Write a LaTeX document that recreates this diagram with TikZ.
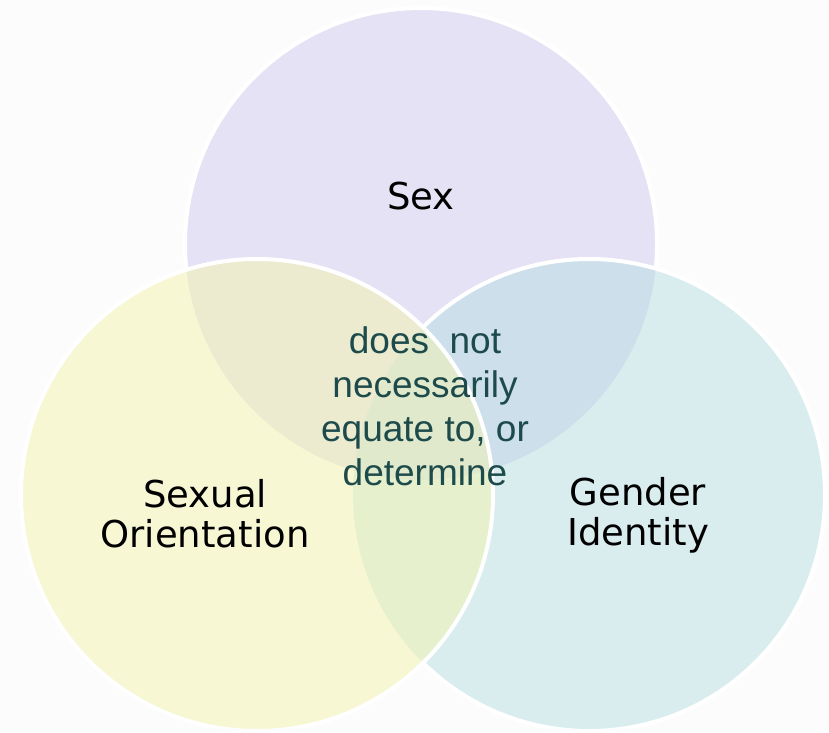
\documentclass[tikz,border=0pt]{standalone}
\usepackage{fontspec}
\setmainfont{DejaVu Sans}
\newfontfamily\linkfont{Liberation Sans}
\definecolor{sexfill}{HTML}{CEC9EE}
\definecolor{orientfill}{HTML}{F4F4AE}
\definecolor{genderfill}{HTML}{B8DEE2}
\definecolor{linktext}{HTML}{1D4A4A}
\definecolor{pagebg}{HTML}{FCFCFC}

\begin{document}
\begin{tikzpicture}[
            x=1pt, y=-1pt,
            set/.style={
                circle,
                minimum size=472pt,
                inner sep=0pt,
                fill opacity=0.5
            },
            ring/.style={
                draw=white,
                line width=4pt
            },
            setlabel/.style={
                align=center,
                font=\fontsize{37}{40}\selectfont
            },
            linklabel/.style={
                align=center,
                text=linktext,
                font=\linkfont\fontsize{37}{44}\selectfont
            }
        ]

            \fill[pagebg] (0,0) rectangle (829,732);
            \useasboundingbox (0,0) rectangle (829,732);

            \node[set, fill=sexfill] (sex) at (421,244) {};
            \node[set, fill=genderfill] (gender) at (589,495) {};
            \node[set, fill=orientfill] (orient) at (257,495) {};

            \begin{scope}[even odd rule]
                \clip (0,0) rectangle (829,732)
                    (orient.center) circle[radius=236pt];
                \clip (0,0) rectangle (829,732)
                    (gender.center) circle[radius=236pt];
                \draw[ring] (sex.center) circle[radius=236pt];
            \end{scope}
            \begin{scope}[even odd rule]
                \clip (0,0) rectangle (829,732)
                    (orient.center) circle[radius=236pt];
                \draw[ring] (gender.center) circle[radius=236pt];
            \end{scope}
            \draw[ring] (orient.center) circle[radius=236pt];

            \node[setlabel] (sexlabel) at (421,196) {Sex};
            \node[setlabel] (orientlabel) at (205,514) {Sexual\\Orientation};
            \node[setlabel] (genderlabel) at (638,515) {Gender\\Identity};

            \node[linklabel] (link) at (425,406)
                {does\ \ not\\necessarily\\equate to, or\\determine};

        \end{tikzpicture}
\end{document}
